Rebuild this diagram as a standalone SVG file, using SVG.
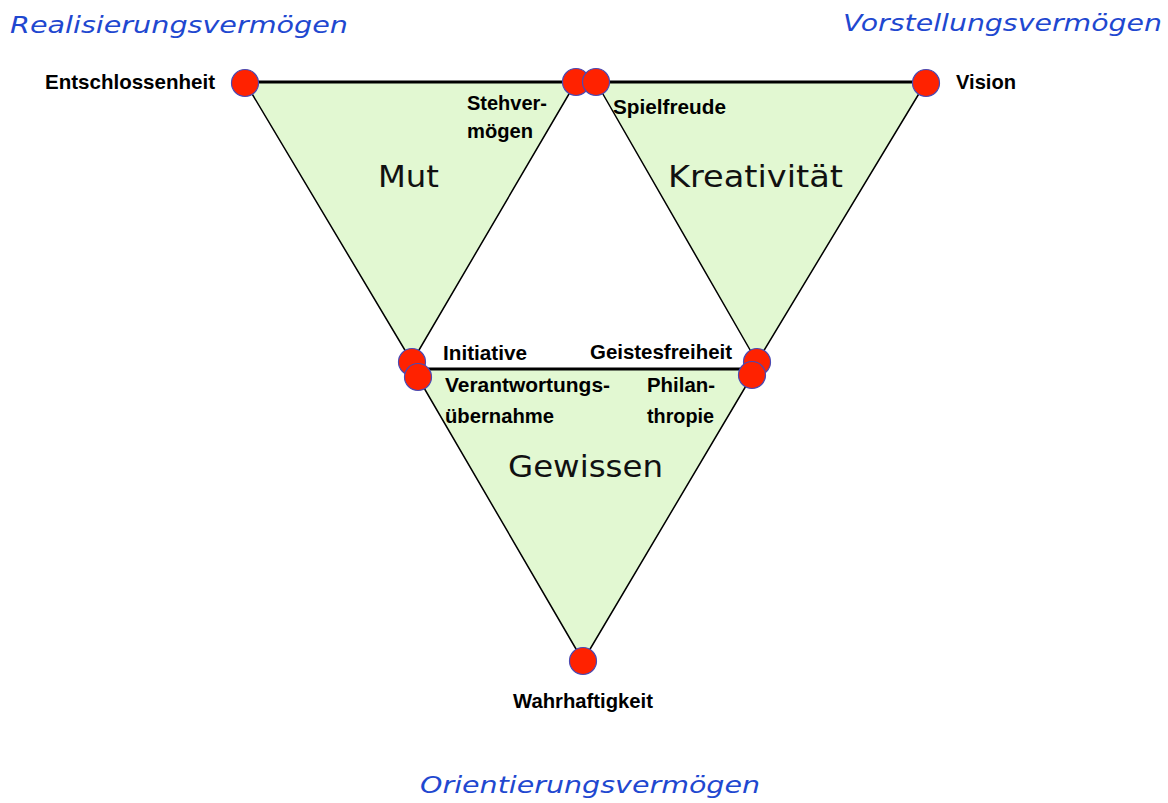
<svg xmlns="http://www.w3.org/2000/svg" width="1168" height="803" viewBox="0 0 1168 803">
  <style>
    .tri { fill: #e2f8d2; stroke: #000; stroke-width: 1.5; stroke-linejoin: round; }
    .bar { stroke: #000; stroke-width: 3; fill: none; }
    .dot { fill: #ff2200; stroke: #4a4ab4; stroke-width: 1.2; }
    .lbl { font-family: "Liberation Sans", Arial, sans-serif; font-weight: bold; font-size: 20.5px; fill: #000; }
    .title { font-family: "DejaVu Sans", Verdana, sans-serif; font-style: italic; font-size: 22.5px; fill: #1f48d0; }
    .big { font-family: "DejaVu Sans", Verdana, sans-serif; font-size: 30px; fill: #111; }
  </style>
  <rect width="1168" height="803" fill="#fff"/>

  <!-- three triangular areas -->
  <g id="mut">
    <polygon class="tri" points="245,82 576,82 412,362"/>
    <text class="big" x="378" y="187" textLength="61" lengthAdjust="spacingAndGlyphs">Mut</text>
  </g>
  <g id="kreativitaet">
    <polygon class="tri" points="596,82 926,82 757,362"/>
    <text class="big" x="668" y="187" textLength="175" lengthAdjust="spacingAndGlyphs">Kreativität</text>
  </g>
  <g id="gewissen">
    <polygon class="tri" points="413,369 756,369 583,661"/>
    <text class="big" x="508" y="477" textLength="155" lengthAdjust="spacingAndGlyphs">Gewissen</text>
  </g>

  <!-- connecting bars -->
  <g id="connectors">
    <line class="bar" x1="245" y1="82" x2="926" y2="82"/>
    <line class="bar" x1="413" y1="369" x2="756" y2="369"/>
  </g>

  <!-- vertex points -->
  <g id="entschlossenheit">
    <circle class="dot" cx="245" cy="83" r="13.5"/>
    <text class="lbl" x="45" y="89" textLength="170" lengthAdjust="spacingAndGlyphs">Entschlossenheit</text>
  </g>
  <g id="stehvermoegen">
    <circle class="dot" cx="576" cy="82" r="13.5"/>
    <text class="lbl" x="467" y="110" textLength="80" lengthAdjust="spacingAndGlyphs">Stehver-</text>
    <text class="lbl" x="467" y="138" textLength="66" lengthAdjust="spacingAndGlyphs">mögen</text>
  </g>
  <g id="spielfreude">
    <circle class="dot" cx="596" cy="82" r="13.5"/>
    <text class="lbl" x="613" y="114" textLength="113" lengthAdjust="spacingAndGlyphs">Spielfreude</text>
  </g>
  <g id="vision">
    <circle class="dot" cx="926" cy="83" r="13.5"/>
    <text class="lbl" x="956" y="89" textLength="60" lengthAdjust="spacingAndGlyphs">Vision</text>
  </g>
  <g id="initiative">
    <circle class="dot" cx="412" cy="362" r="13.5"/>
    <text class="lbl" x="443" y="360" textLength="84" lengthAdjust="spacingAndGlyphs">Initiative</text>
  </g>
  <g id="verantwortungsuebernahme">
    <circle class="dot" cx="418" cy="377" r="13.5"/>
    <text class="lbl" x="445" y="392" textLength="165" lengthAdjust="spacingAndGlyphs">Verantwortungs-</text>
    <text class="lbl" x="445" y="423" textLength="109" lengthAdjust="spacingAndGlyphs">übernahme</text>
  </g>
  <g id="geistesfreiheit">
    <circle class="dot" cx="757" cy="362" r="13.5"/>
    <text class="lbl" x="590" y="359" textLength="142" lengthAdjust="spacingAndGlyphs">Geistesfreiheit</text>
  </g>
  <g id="philanthropie">
    <circle class="dot" cx="752" cy="375" r="13.5"/>
    <text class="lbl" x="647" y="392" textLength="68" lengthAdjust="spacingAndGlyphs">Philan-</text>
    <text class="lbl" x="647" y="423" textLength="67" lengthAdjust="spacingAndGlyphs">thropie</text>
  </g>
  <g id="wahrhaftigkeit">
    <circle class="dot" cx="583" cy="661" r="13.5"/>
    <text class="lbl" x="513" y="708" textLength="140" lengthAdjust="spacingAndGlyphs">Wahrhaftigkeit</text>
  </g>

  <!-- faculty headings -->
  <g id="headings">
    <text class="title" x="10" y="33" textLength="338" lengthAdjust="spacingAndGlyphs">Realisierungsvermögen</text>
    <text class="title" x="843" y="31" textLength="319" lengthAdjust="spacingAndGlyphs">Vorstellungsvermögen</text>
    <text class="title" x="420" y="793" textLength="340" lengthAdjust="spacingAndGlyphs">Orientierungsvermögen</text>
  </g>
</svg>
